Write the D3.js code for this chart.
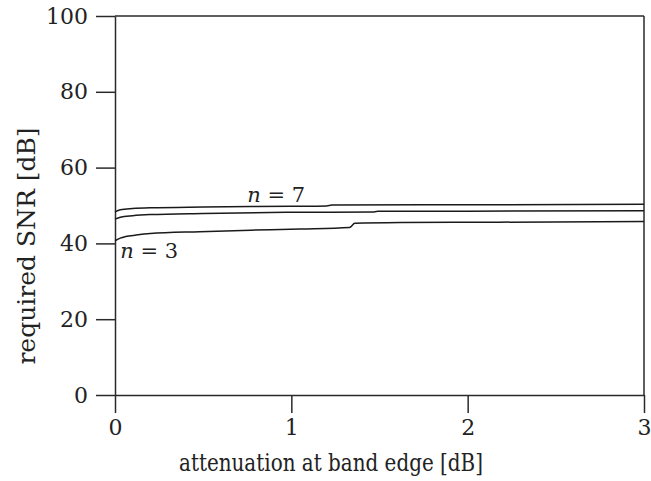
<!DOCTYPE html>
<html>
<head>
<meta charset="utf-8">
<script src="https://cdn.jsdelivr.net/npm/d3@7"></script>
<style>
  body { margin: 0; background: #fff; }
  svg { display: block; }
  text { font-family: "DejaVu Serif", serif; fill: #222; }
</style>
</head>
<body>
<svg id="chart" width="651" height="481"></svg>
<script>
// Data
const xTicks = [0, 1, 2, 3];
const yTicks = [0, 20, 40, 60, 80, 100];
const xLabel = "attenuation at band edge [dB]";
const yLabel = "required SNR [dB]";

const curveN7 = [
  [0.0, 48.3], [0.03, 48.9], [0.1, 49.2], [0.2, 49.4], [0.5, 49.6],
  [1.0, 49.8], [1.2, 49.9], [1.23, 50.1], [2.0, 50.2], [3.0, 50.3]
];
const curveN5 = [
  [0.0, 46.4], [0.03, 46.9], [0.1, 47.3], [0.2, 47.6], [0.5, 47.9],
  [1.0, 48.2], [1.46, 48.3], [1.49, 48.45], [2.0, 48.5], [3.0, 48.6]
];
const curveN3 = [
  [0.0, 40.7], [0.03, 41.4], [0.06, 41.8], [0.12, 42.2], [0.2, 42.6], [0.48, 43.1],
  [0.77, 43.5], [1.05, 43.8], [1.33, 44.2], [1.36, 45.3], [1.62, 45.5],
  [2.18, 45.6], [3.0, 45.8]
];
const curves = [curveN7, curveN5, curveN3];

const labels = [
  { n: "7", x: 0.75, y: 50.9 },
  { n: "3", x: 0.03, y: 36.2 }
];

const svg = d3.select("#chart");
const mLeft = 115, mRight = 644, mTop = 16, mBottom = 395;

const x = d3.scaleLinear().domain([0, 3]).range([mLeft, mRight]);
const y = d3.scaleLinear().domain([0, 100]).range([mBottom, mTop]);

const stroke = "#2a2a2a";

// Axes
const gx = svg.append("g").attr("transform", `translate(0,${mBottom})`)
  .call(d3.axisBottom(x).tickValues(xTicks).tickSize(18).tickSizeOuter(0).tickPadding(6).tickFormat(d3.format("d")));
const gy = svg.append("g").attr("transform", `translate(${mLeft},0)`)
  .call(d3.axisLeft(y).tickValues(yTicks).tickSize(19).tickSizeOuter(0).tickPadding(8).tickFormat(d3.format("d")));

[gx, gy].forEach(g => {
  g.select(".domain").attr("stroke", stroke).attr("stroke-width", 1.5);
  g.selectAll(".tick line").attr("stroke", stroke).attr("stroke-width", 1.5);
  g.selectAll(".tick text").attr("font-family", "DejaVu Serif").attr("font-size", 22).attr("fill", "#222");
});

// Frame top & right
svg.append("line").attr("x1", mLeft).attr("x2", mRight).attr("y1", mTop).attr("y2", mTop)
  .attr("stroke", stroke).attr("stroke-width", 1.5);
svg.append("line").attr("x1", mRight).attr("x2", mRight).attr("y1", mTop).attr("y2", mBottom)
  .attr("stroke", stroke).attr("stroke-width", 1.5);

// Curves
const line = d3.line().x(d => x(d[0])).y(d => y(d[1])).curve(d3.curveMonotoneX);
svg.append("g").selectAll("path").data(curves).join("path")
  .attr("d", line)
  .attr("fill", "none")
  .attr("stroke", "#1a1a1a")
  .attr("stroke-width", 1.5);

// Curve labels
labels.forEach(l => {
  const t = svg.append("text")
    .attr("x", x(l.x)).attr("y", y(l.y))
    .attr("font-size", 21);
  t.append("tspan").attr("font-style", "italic").text("n");
  t.append("tspan").text(" = " + l.n);
});

// Axis titles
svg.append("text")
  .attr("x", 331).attr("y", 471)
  .attr("text-anchor", "middle").attr("font-size", 24)
  .attr("textLength", 304).attr("lengthAdjust", "spacingAndGlyphs")
  .text(xLabel);
svg.append("text")
  .attr("transform", `translate(35,246) rotate(-90)`)
  .attr("text-anchor", "middle").attr("font-size", 25)
  .text(yLabel);
</script>
</body>
</html>
